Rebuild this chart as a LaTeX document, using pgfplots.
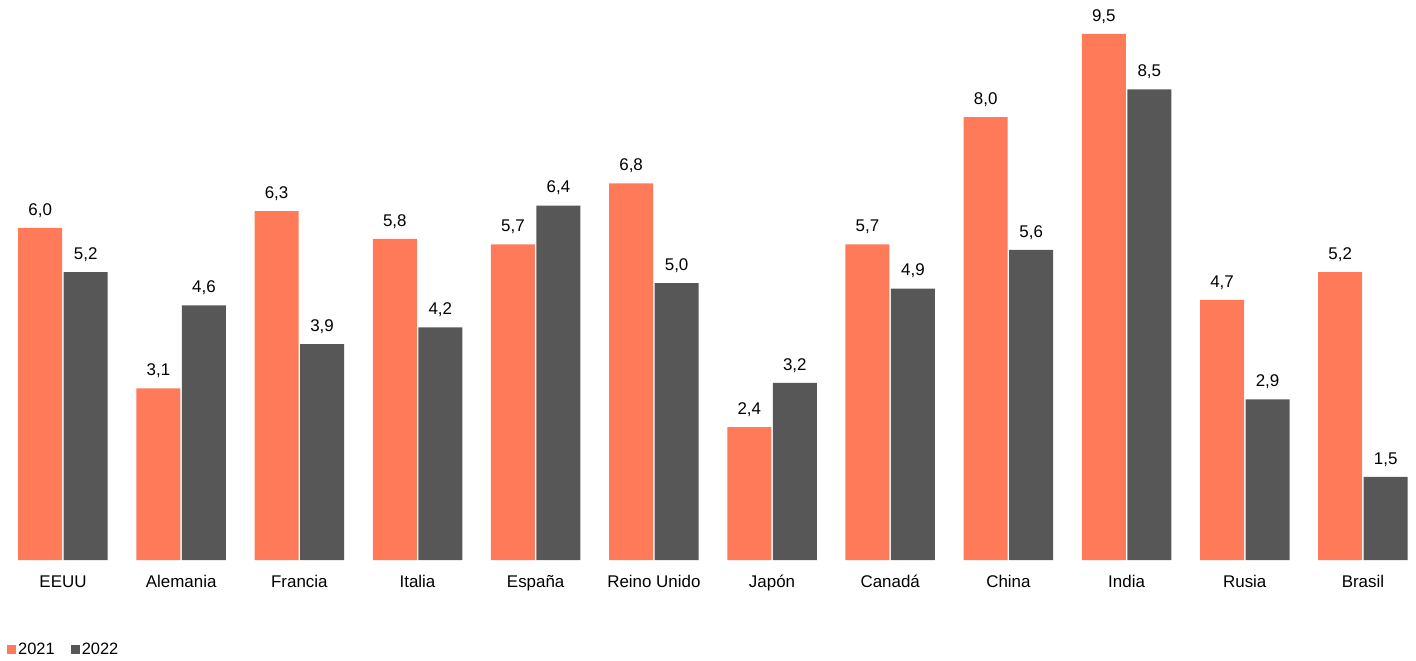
\documentclass[border=0pt]{standalone}
\usepackage{fontspec}
\setmainfont{Liberation Sans}
\usepackage{pgfplots}
\pgfplotsset{compat=1.18}
\definecolor{orangeA}{RGB}{255,122,89}
\definecolor{grayA}{RGB}{86,87,86}
\begin{document}
\begin{tikzpicture}
\path[use as bounding box] (0,0) rectangle (1416bp,661bp);
\begin{axis}[
  at={(0bp,101bp)}, anchor=south west,
  scale only axis, width=1416bp, height=560bp,
  xmin=-0.533, xmax=11.449, ymin=0, ymax=10.114,
  clip=false,
  axis line style={draw=none},
  ytick=\empty,
  xtick={0,...,11},
  xticklabels={EEUU,Alemania,Francia,Italia,España,Reino Unido,Japón,Canadá,China,India,Rusia,Brasil},
  major tick length=0pt, tick style={draw=none},
  xticklabel style={font=\fontsize{17}{20}\selectfont, anchor=base, inner sep=0pt, yshift=-27bp},
  ybar=1.5bp, bar width=44bp,
  nodes near coords={\pgfmathprintnumber[fixed,fixed zerofill,precision=1,use comma,assume math mode=true]{\pgfplotspointmeta}},
  nodes near coords style={font=\fontsize{17}{20}\selectfont, anchor=base, inner sep=0pt, yshift=12.7bp},
  legend columns=2,
  legend style={at={(axis description cs:0.00494,-0.1607)}, anchor=west, draw=none, fill=none, inner sep=0pt,
    font=\fontsize{16.5}{19}\selectfont,
    nodes={inner sep=2bp},
    /tikz/every even column/.append style={column sep=14bp}},
  legend image code/.code={\fill[#1] (0bp,-4.5bp) rectangle (9bp,4.5bp);},
]
\addplot[fill=orangeA, draw=none] coordinates {(0,6.0) (1,3.1) (2,6.3) (3,5.8) (4,5.7) (5,6.8) (6,2.4) (7,5.7) (8,8.0) (9,9.5) (10,4.7) (11,5.2)};
\addplot[fill=grayA, draw=none] coordinates {(0,5.2) (1,4.6) (2,3.9) (3,4.2) (4,6.4) (5,5.0) (6,3.2) (7,4.9) (8,5.6) (9,8.5) (10,2.9) (11,1.5)};
\legend{2021,2022}
\end{axis}
\end{tikzpicture}
\end{document}
